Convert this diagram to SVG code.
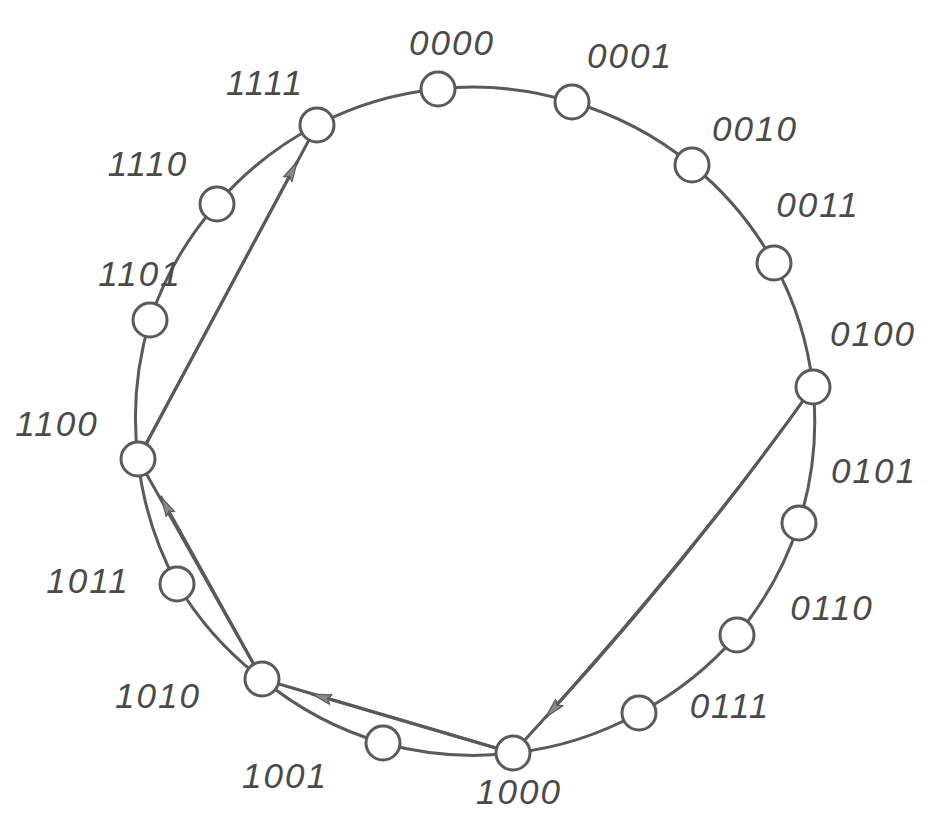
<svg xmlns="http://www.w3.org/2000/svg" width="930" height="820" viewBox="0 0 930 820">
<style>
.node{fill:#fff;stroke:#5a5a5a;stroke-width:3}
.edge{fill:none;stroke:#5a5a5a;stroke-width:3;stroke-linecap:round}
.lbl{font-family:"Liberation Sans",Arial,sans-serif;font-style:italic;font-size:35px;fill:#4a4a4a;text-anchor:middle;letter-spacing:2px}
</style>
<defs>
<marker id="arr" viewBox="0 0 20 12" refX="20" refY="6" markerWidth="20" markerHeight="12" markerUnits="userSpaceOnUse" orient="auto">
<path d="M0,1 L20,6 L0,11 L4,6 Z" fill="#8a8a8a" stroke="#5a5a5a" stroke-width="1.2"/>
</marker>
</defs>
<rect width="930" height="820" fill="#fff"/>
<g id="connectors">
<path class="edge" d="M438,89 A337,337 0 0 1 572,102 A337,337 0 0 1 692,165 A337,337 0 0 1 774,263 A337,337 0 0 1 813,387 A337,337 0 0 1 799,523 A337,337 0 0 1 737,635 A337,337 0 0 1 639,713 A337,337 0 0 1 513,753 A337,337 0 0 1 383,743 A337,337 0 0 1 262,679 A337,337 0 0 1 177,584 A337,337 0 0 1 138,459 A337,337 0 0 1 150,320 A337,337 0 0 1 217,204 A337,337 0 0 1 317,125 A337,337 0 0 1 438,89"/>
<path class="edge" d="M138,459 L317,125"/>
<path class="edge" d="M138,459 L297,162" marker-end="url(#arr)"/>
<path class="edge" d="M813,387 Q690,560 513,753"/>
<path class="edge" d="M813,387 Q690,560 546,717" marker-end="url(#arr)"/>
<path class="edge" d="M513,753 L262,679"/>
<path class="edge" d="M513,753 L312,694" marker-end="url(#arr)"/>
<path class="edge" d="M262,679 L138,459"/>
<path class="edge" d="M262,679 L161,497" marker-end="url(#arr)"/>
</g>
<g id="n0000"><circle class="node" cx="438" cy="89" r="17"/><text class="lbl" x="452" y="55">0000</text></g>
<g id="n0001"><circle class="node" cx="572" cy="102" r="17"/><text class="lbl" x="630" y="68">0001</text></g>
<g id="n0010"><circle class="node" cx="692" cy="165" r="17"/><text class="lbl" x="755" y="141">0010</text></g>
<g id="n0011"><circle class="node" cx="774" cy="263" r="17"/><text class="lbl" x="818" y="217">0011</text></g>
<g id="n0100"><circle class="node" cx="813" cy="387" r="17"/><text class="lbl" x="873" y="346">0100</text></g>
<g id="n0101"><circle class="node" cx="799" cy="523" r="17"/><text class="lbl" x="874" y="483">0101</text></g>
<g id="n0110"><circle class="node" cx="737" cy="635" r="17"/><text class="lbl" x="832" y="620">0110</text></g>
<g id="n0111"><circle class="node" cx="639" cy="713" r="17"/><text class="lbl" x="730" y="718">0111</text></g>
<g id="n1000"><circle class="node" cx="513" cy="753" r="17"/><text class="lbl" x="519" y="804">1000</text></g>
<g id="n1001"><circle class="node" cx="383" cy="743" r="17"/><text class="lbl" x="285" y="788">1001</text></g>
<g id="n1010"><circle class="node" cx="262" cy="679" r="17"/><text class="lbl" x="158" y="708">1010</text></g>
<g id="n1011"><circle class="node" cx="177" cy="584" r="17"/><text class="lbl" x="88" y="593">1011</text></g>
<g id="n1100"><circle class="node" cx="138" cy="459" r="17"/><text class="lbl" x="57" y="436">1100</text></g>
<g id="n1101"><circle class="node" cx="150" cy="320" r="17"/><text class="lbl" x="140" y="286">1101</text></g>
<g id="n1110"><circle class="node" cx="217" cy="204" r="17"/><text class="lbl" x="148" y="176">1110</text></g>
<g id="n1111"><circle class="node" cx="317" cy="125" r="17"/><text class="lbl" x="265" y="95">1111</text></g>
</svg>
